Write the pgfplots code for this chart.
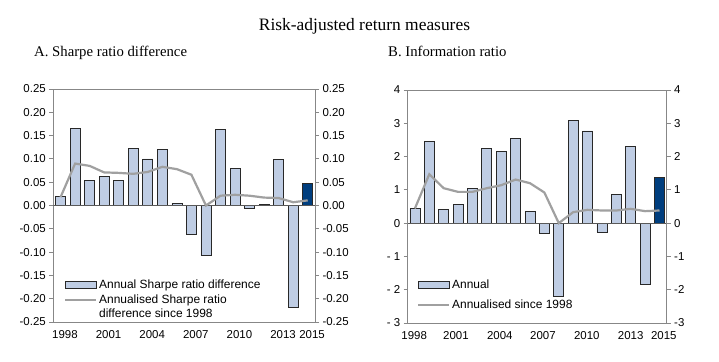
\documentclass[border=0pt]{standalone}
\usepackage{pgfplots}
\pgfplotsset{compat=1.18}
\usepackage{pgfplotstable}
\usepackage{fontspec}
\setmainfont{Liberation Sans}
\newfontfamily\serif{Liberation Serif}
\definecolor{barblue}{RGB}{191,205,228}
\definecolor{darkblue}{RGB}{0,62,126}
\definecolor{linegray}{RGB}{160,160,160}
\definecolor{axgray}{RGB}{135,135,135}
\definecolor{edge}{RGB}{40,40,40}

\pgfplotstableread{
year sharpe cumsharpe info cuminfo
1998 0.019 0.018 0.43 0.44
1999 0.166 0.090 2.45 1.47
2000 0.054 0.085 0.42 1.05
2001 0.062 0.071 0.55 0.94
2002 0.053 0.070 1.05 0.94
2003 0.123 0.068 2.25 1.05
2004 0.100 0.072 2.15 1.14
2005 0.121 0.083 2.55 1.31
2006 0.005 0.078 0.36 1.20
2007 -0.062 0.066 -0.30 0.92
2008 -0.108 0.000 -2.20 0.00
2009 0.164 0.021 3.08 0.33
2010 0.080 0.023 2.77 0.40
2011 -0.007 0.021 -0.27 0.38
2012 0.002 0.017 0.87 0.38
2013 0.098 0.016 2.30 0.43
2014 -0.219 0.007 -1.85 0.36
2015 0.047 0.011 1.38 0.38
}\data
\pgfplotstableread{
year sharpe info
2015 0.047 1.38
}\last

\pgfplotsset{
  panel/.style={
    scale only axis, height=233bp,
    xmin=1997.5, xmax=2015.5,
    xticklabels={1998,2001,2004,2007,2010,2013,2015},
    xtick style={draw=none},
    axis line style={axgray, line width=0.8bp},
    tick style={axgray, line width=0.8bp},
    tick align=outside, major tick length=4bp,
    ytick pos=left,
    tick label style={font=\fontsize{11.5}{13}\selectfont, text=black},
    xticklabel style={yshift=-1bp},
    legend style={draw=none, fill=none, font=\fontsize{12}{13.5}\selectfont,
      cells={anchor=west, align=left}, row sep=1bp,
      inner sep=0pt, anchor=north west},
  },
  twin/.style={
    scale only axis, height=233bp,
    xmin=1997.5, xmax=2015.5,
    axis x line=none, axis y line*=right,
    axis line style={axgray, line width=0.8bp},
    tick style={axgray, line width=0.8bp},
    tick align=outside, major tick length=4bp,
    tick label style={font=\fontsize{11.5}{13}\selectfont, text=black},
  },
  barsty/.style={ybar, bar shift=0pt, bar width=10bp, fill=barblue, draw=edge, line width=0.7bp,
    legend image code/.code={\draw[fill=barblue, draw=edge, line width=0.7bp] (0bp,-3.2bp) rectangle (31bp,3.2bp);}},
  linesty/.style={sharp plot, linegray, line width=2.2bp, no markers,
    legend image code/.code={\draw[linegray, line width=2.2bp] (0bp,0bp) -- (31bp,0bp);}},
  linestyup/.style={sharp plot, linegray, line width=2.2bp, no markers,
    legend image code/.code={\draw[linegray, line width=2.2bp] (0bp,6.5bp) -- (31bp,6.5bp);}},
}

\begin{document}
\begin{tikzpicture}
\path[use as bounding box] (0bp,0bp) rectangle (719bp,362bp);
\node[font=\serif\fontsize{17.5}{19}\selectfont, anchor=base, inner sep=0pt] at (364.5bp,331bp) {Risk-adjusted return measures};
\node[font=\serif\fontsize{14.8}{16}\selectfont, anchor=base west, inner sep=0pt] at (34bp,305bp) {A. Sharpe ratio difference};
\node[font=\serif\fontsize{14.8}{16}\selectfont, anchor=base west, inner sep=0pt] at (388bp,305bp) {B. Information ratio};

% Panel A
\begin{axis}[panel, at={(53.3bp,40bp)}, anchor=south west, width=261.7bp,
  xtick={1998.3,2001.3,2004.3,2007.3,2010.3,2013.3,2015.3},
  ymin=-0.25, ymax=0.25,
  ytick={-0.25,-0.2,-0.15,-0.1,-0.05,0,0.05,0.1,0.15,0.2,0.25},
  yticklabels={-0.25,-0.20,-0.15,-0.10,-0.05,0.00,0.05,0.10,0.15,0.20,0.25},
  legend style={at={(0.04,0.19)}}]
\addplot[barsty] table[x=year, y=sharpe] {\data};
\addlegendentry{Annual Sharpe ratio difference}
\addplot[ybar, bar shift=0pt, bar width=10bp, fill=darkblue, draw=edge, line width=0.7bp, forget plot] table[x=year, y=sharpe] {\last};
\addplot[sharp plot, no markers, color=black!65, line width=0.9bp, forget plot] coordinates {(1997.5,0) (2015.5,0)};
\addplot[linestyup] table[x=year, y=cumsharpe] {\data};
\addlegendentry{Annualised Sharpe ratio\\difference since 1998}
\end{axis}
\begin{axis}[twin, at={(53.3bp,40bp)}, anchor=south west, width=261.7bp,
  ymin=-0.25, ymax=0.25,
  ytick={-0.25,-0.2,-0.15,-0.1,-0.05,0,0.05,0.1,0.15,0.2,0.25},
  yticklabels={-0.25,-0.20,-0.15,-0.10,-0.05,0.00,0.05,0.10,0.15,0.20,0.25}]
\end{axis}

% Panel B
\begin{axis}[panel, at={(407.7bp,39bp)}, anchor=south west, width=259bp,
  xtick={1997.95,2000.85,2003.9,2006.9,2009.95,2013.0,2015.3},
  ymin=-3, ymax=4,
  ytick={-3,-2,-1,0,1,2,3,4},
  yticklabels={- 3,- 2,- 1,0,1,2,3,4},
  legend style={at={(0.035,0.195)}, row sep=6bp}]
\addplot[barsty] table[x=year, y=info] {\data};
\addlegendentry{Annual}
\addplot[ybar, bar shift=0pt, bar width=10bp, fill=darkblue, draw=edge, line width=0.7bp, forget plot] table[x=year, y=info] {\last};
\addplot[sharp plot, no markers, color=black!65, line width=0.9bp, forget plot] coordinates {(1997.5,0) (2015.5,0)};
\addplot[linesty] table[x=year, y=cuminfo] {\data};
\addlegendentry{Annualised since 1998}
\end{axis}
\begin{axis}[twin, at={(407.7bp,39bp)}, anchor=south west, width=259bp,
  ymin=-3, ymax=4,
  ytick={-3,-2,-1,0,1,2,3,4},
  yticklabels={-3,-2,-1,0,1,2,3,4}]
\end{axis}
\end{tikzpicture}
\end{document}
